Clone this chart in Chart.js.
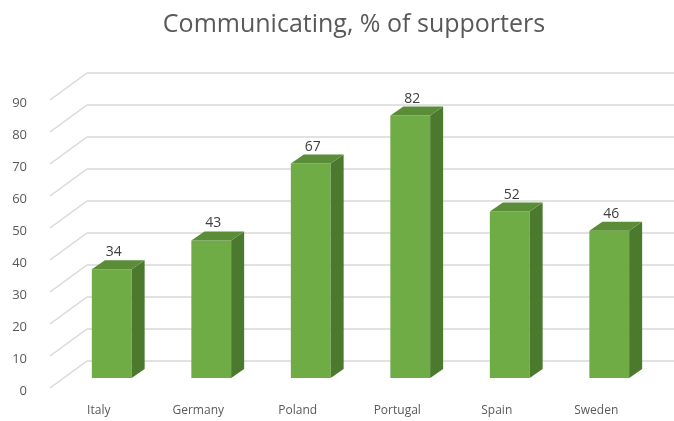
<!DOCTYPE html>
<html>
<head>
<meta charset="utf-8">
<script src="https://cdn.jsdelivr.net/npm/chart.js@4.4.1/dist/chart.umd.min.js"></script>
<style>
  html,body{margin:0;padding:0;background:#fff;}
  #wrap{width:674px;height:421px;}
</style>
</head>
<body>
<div id="wrap"><canvas id="chart" width="674" height="421"></canvas></div>
<script>
const countries = ['Italy','Germany','Poland','Portugal','Spain','Sweden'];
const supporters = [34,43,67,82,52,46];
const yTicks = [0,10,20,30,40,50,60,70,80,90];
const chartTitle = 'Communicating, % of supporters';

const DX = 13, DY = 9; // bar depth

// slanted floor/back-wall grid, drawn behind the bars
const grid3d = {
  id:'grid3d',
  beforeDatasetsDraw(chart){
    const {ctx, chartArea, scales:{y}} = chart;
    ctx.save();
    ctx.strokeStyle='#d9d9d9';
    ctx.lineWidth=1.5;
    yTicks.forEach(v=>{
      const py = y.getPixelForValue(v);
      ctx.beginPath();
      ctx.moveTo(chartArea.left-12, py+10);
      ctx.lineTo(chartArea.left+25, py-17);
      ctx.lineTo(chart.width, py-17);
      ctx.stroke();
    });
    ctx.restore();
  }
};

// side + top faces, value labels, title
const bars3d = {
  id:'bars3d',
  afterDatasetsDraw(chart){
    const ctx = chart.ctx;
    const meta = chart.getDatasetMeta(0);
    ctx.save();
    meta.data.forEach((bar,i)=>{
      const {x,y,base,width} = bar.getProps(['x','y','base','width'],true);
      const l = x-width/2, r = x+width/2;
      ctx.fillStyle='#4b7a2e';
      ctx.beginPath();
      ctx.moveTo(r,y); ctx.lineTo(r+DX,y-DY); ctx.lineTo(r+DX,base-DY); ctx.lineTo(r,base);
      ctx.closePath(); ctx.fill();
      ctx.fillStyle='#5b8d39';
      ctx.beginPath();
      ctx.moveTo(l,y); ctx.lineTo(l+DX,y-DY); ctx.lineTo(r+DX,y-DY); ctx.lineTo(r,y);
      ctx.closePath(); ctx.fill();
      ctx.fillStyle='#404040';
      ctx.font='14px "Open Sans", sans-serif';
      ctx.textAlign='center';
      ctx.textBaseline='bottom';
      ctx.fillText(supporters[i], x+2, y-DY-1);
    });
    ctx.fillStyle='#595959';
    ctx.font='25px "Open Sans", sans-serif';
    ctx.textAlign='center';
    ctx.textBaseline='middle';
    ctx.fillText(chartTitle, 354, 25);
    ctx.restore();
  }
};

new Chart(document.getElementById('chart'),{
  type:'bar',
  data:{
    labels:countries,
    datasets:[{
      data:supporters,
      backgroundColor:'#6fac46',
      barPercentage:0.8,
      categoryPercentage:0.5
    }]
  },
  options:{
    responsive:false,
    animation:false,
    layout:{padding:{left:0,right:15,bottom:0,top:90}},
    plugins:{
      legend:{display:false},
      tooltip:{enabled:false},
      title:{display:false}
    },
    scales:{
      x:{
        grid:{display:false},
        border:{display:false},
        ticks:{color:'#595959',font:{family:'"Open Sans", sans-serif',size:12},padding:17,labelOffset:-13},
        afterFit(s){ s.height=43; }
      },
      y:{
        min:0,max:90,
        grid:{display:false},
        border:{display:false},
        ticks:{stepSize:10,color:'#595959',font:{family:'"Open Sans", sans-serif',size:13},padding:27,labelOffset:13},
        afterFit(s){ s.width=62; }
      }
    }
  },
  plugins:[grid3d,bars3d]
});
</script>
</body>
</html>
